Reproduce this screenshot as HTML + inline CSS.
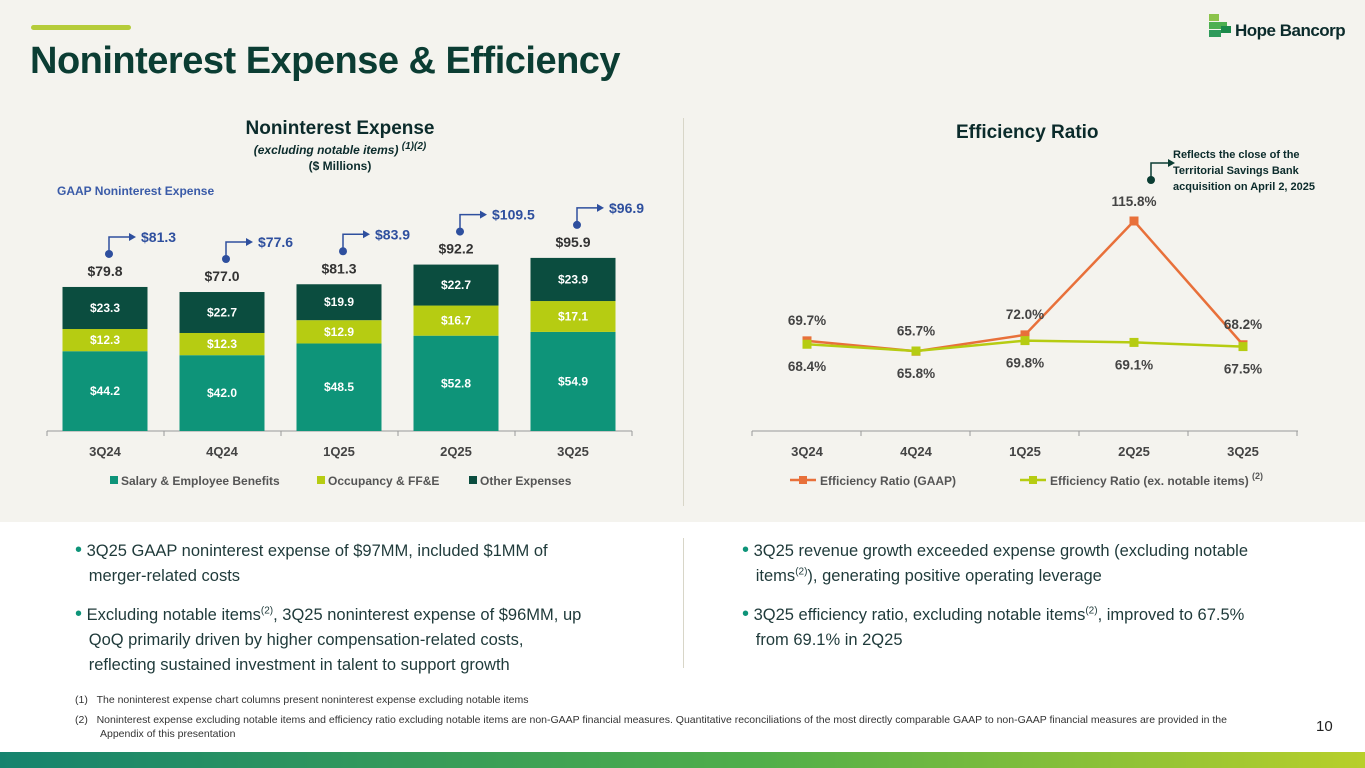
<!DOCTYPE html>
<html><head><meta charset="utf-8"><style>
body{margin:0;width:1365px;height:768px;overflow:hidden;font-family:"Liberation Sans",sans-serif;background:#fff;position:relative}
.abs{position:absolute}
.b{font-size:16.5px;color:#1f3a3a;line-height:25px}
.dot{color:#0e9479;font-size:20px}
sup{font-size:10px;line-height:0}
</style></head><body>
<div class="abs" style="left:0;top:0;width:1365px;height:522px;background:#f4f3ee"></div>
<div class="abs" style="left:31px;top:25px;width:100px;height:5px;background:#b5cc3a;border-radius:3px"></div>
<div class="abs" style="left:30px;top:40px;font-size:38px;font-weight:bold;color:#0b3d33;letter-spacing:-0.5px">Noninterest Expense &amp; Efficiency</div>
<div class="abs" style="left:1207px;top:12px;width:150px;height:30px">
<svg width="30" height="32" style="position:absolute;left:0;top:0"><rect x="2" y="2" width="10" height="7" fill="#8bc34a"/><rect x="2" y="10" width="18" height="7" fill="#4caf50"/><rect x="2" y="18" width="12" height="7" fill="#2e9a5a"/><rect x="14" y="14" width="10" height="7" fill="#1b8a4a"/></svg>
<span style="position:absolute;left:28px;top:9px;font-size:17px;font-weight:bold;color:#0b2b2b;letter-spacing:-0.5px">Hope Bancorp</span></div>
<div class="abs" style="left:683px;top:118px;width:1px;height:388px;background:#d8d6c8"></div>
<div class="abs" style="left:190px;top:118px;width:300px;text-align:center;color:#0b2b2b">
<div style="font-size:19px;font-weight:bold">Noninterest Expense</div>
<div style="font-size:12px;font-style:italic;font-weight:bold;margin-top:3px">(excluding notable items) <sup>(1)(2)</sup></div>
<div style="font-size:12px;font-weight:bold;margin-top:2px">($ Millions)</div></div>
<div class="abs" style="left:57px;top:184px;font-size:12px;font-weight:bold;color:#3a5ba8">GAAP Noninterest Expense</div>
<div class="abs" style="left:956px;top:122px;font-size:19px;font-weight:bold;color:#0b2b2b">Efficiency Ratio</div>
<div class="abs" style="left:1173px;top:147px;font-size:11px;font-weight:bold;color:#0b2b2b;line-height:16px">Reflects the close of the<br>Territorial Savings Bank<br>acquisition on April 2, 2025</div>
<svg class="abs" style="left:0;top:0" width="1365" height="520" id="chart"></svg>
<div class="abs b" style="left:75px;top:538px;width:600px">
<div><span class="dot">•</span> 3Q25 GAAP noninterest expense of $97MM, included $1MM of<br>&nbsp;&nbsp;&nbsp;merger-related costs</div>
<div style="margin-top:13px"><span class="dot">•</span> Excluding notable items<sup>(2)</sup>, 3Q25 noninterest expense of $96MM, up<br>&nbsp;&nbsp;&nbsp;QoQ primarily driven by higher compensation-related costs,<br>&nbsp;&nbsp;&nbsp;reflecting sustained investment in talent to support growth</div></div>
<div class="abs" style="left:683px;top:538px;width:1px;height:130px;background:#d8d6c8"></div>
<div class="abs b" style="left:742px;top:538px;width:620px">
<div><span class="dot">•</span> 3Q25 revenue growth exceeded expense growth (excluding notable<br>&nbsp;&nbsp;&nbsp;items<sup>(2)</sup>), generating positive operating leverage</div>
<div style="margin-top:13px"><span class="dot">•</span> 3Q25 efficiency ratio, excluding notable items<sup>(2)</sup>, improved to 67.5%<br>&nbsp;&nbsp;&nbsp;from 69.1% in 2Q25</div></div>
<div class="abs" style="left:75px;top:693px;font-size:10.5px;color:#333;line-height:14px;width:1175px">
<div>(1)&nbsp;&nbsp;&nbsp;The noninterest expense chart columns present noninterest expense excluding notable items</div>
<div style="margin-top:6px;padding-left:25px;text-indent:-25px">(2)&nbsp;&nbsp;&nbsp;Noninterest expense excluding notable items and efficiency ratio excluding notable items are non-GAAP financial measures. Quantitative reconciliations of the most directly comparable GAAP to non-GAAP financial measures are provided in the Appendix of this presentation</div></div>
<div class="abs" style="left:1316px;top:718px;font-size:15px;color:#222">10</div>
<div class="abs" style="left:0;top:752px;width:1365px;height:16px;background:linear-gradient(90deg,#15836e,#4fae4a 55%,#b8cf2a)"></div>
<script>
const cats=["3Q24","4Q24","1Q25","2Q25","3Q25"];
const salary=[44.2,42.0,48.5,52.8,54.9];
const occupancy=[12.3,12.3,12.9,16.7,17.1];
const other=[23.3,22.7,19.9,22.7,23.9];
const totals=[79.8,77.0,81.3,92.2,95.9];
const gaap=[81.3,77.6,83.9,109.5,96.9];
const effGaap=[69.7,65.7,72.0,115.8,68.2];
const effAdj=[68.4,65.8,69.8,69.1,67.5];
const NS="http://www.w3.org/2000/svg",svg=document.getElementById('chart');
function mk(t,a,txt){const e=document.createElementNS(NS,t);for(const k in a)e.setAttribute(k,a[k]);if(txt!=null)e.textContent=txt;svg.appendChild(e);return e;}
const F='"Liberation Sans",sans-serif';
const bx=i=>105+i*117, by=v=>431-v*1.805;
mk('line',{x1:47,y1:431,x2:632,y2:431,stroke:'#999'});
for(let i=0;i<=5;i++){const t=mk('line',{x1:47+i*117,y1:431,x2:47+i*117,y2:436,stroke:'#999'});}
const segs=[[salary,'#0e9479'],[occupancy,'#b6cc12'],[other,'#0b4d3f']];
cats.forEach((c,i)=>{
 let base=0;
 segs.forEach(([arr,col],s)=>{
  const y0=by(base),y1=by(base+arr[i]);
  const r=mk('rect',{x:bx(i)-42.5,y:y1,width:85,height:y0-y1,fill:col});
  
  
  const t=mk('text',{x:bx(i),y:(y0+y1)/2+4,'text-anchor':'middle','font-size':12,'font-weight':'bold',fill:'#fff','font-family':F},'$'+arr[i].toFixed(1));
  
  
  base+=arr[i];
 });
 const top=by(base);
 const tl=mk('text',{x:bx(i),y:top-11,'text-anchor':'middle','font-size':14,'font-weight':'bold',fill:'#333','font-family':F},'$'+totals[i].toFixed(1));
 
 
 const dx=bx(i)+4, dy=top-33, ly=dy-17;
 mk('circle',{cx:dx,cy:dy,r:4,fill:'#2e4f9e'});
 const ar=mk('path',{d:`M${dx} ${dy} V${ly} H${dx+20}`,stroke:'#2e4f9e','stroke-width':1.5,fill:'none'});
 
 
 mk('path',{d:`M${dx+20} ${ly-4} L${dx+27} ${ly} L${dx+20} ${ly+4}Z`,fill:'#2e4f9e'});
 const gl=mk('text',{x:dx+32,y:ly+5,'font-size':14,'font-weight':'bold',fill:'#2e4f9e','font-family':F},'$'+gaap[i].toFixed(1));
 
 
 const xl=mk('text',{x:bx(i),y:456,'text-anchor':'middle','font-size':13,'font-weight':'bold',fill:'#444','font-family':F},c);
 
 
});
[['Salary & Employee Benefits','#0e9479',110],['Occupancy & FF&E','#b6cc12',317],['Other Expenses','#0b4d3f',469]].forEach(([n,c,x])=>{
 mk('rect',{x:x,y:476,width:8,height:8,fill:c});
 const t=mk('text',{x:x+11,y:485,'font-size':12,'font-weight':'bold',fill:'#555','font-family':F},n);
 
 
});
const rx=i=>807+i*109, ry=v=>351-(v-65.8)*2.6;
mk('line',{x1:752,y1:431,x2:1298,y2:431,stroke:'#999'});
for(let i=0;i<=5;i++){const t=mk('line',{x1:752+i*109,y1:431,x2:752+i*109,y2:436,stroke:'#999'});}
function series(arr,col,name){
 const l=mk('polyline',{points:arr.map((v,i)=>rx(i)+','+ry(v)).join(' '),fill:'none',stroke:col,'stroke-width':2.5});
 
 
 arr.forEach((v,i)=>{const m=mk('rect',{x:rx(i)-4.5,y:ry(v)-4.5,width:9,height:9,fill:col});});
}
series(effGaap,'#e8703a','eff-gaap');
series(effAdj,'#b6cc12','eff-adj');
effGaap.forEach((v,i)=>{const yy=i==3?ry(v)-15:ry(v)-16;const t=mk('text',{x:rx(i),y:yy,'text-anchor':'middle','font-size':13.5,'font-weight':'bold',fill:'#444','font-family':F},v.toFixed(1)+'%');});
effAdj.forEach((v,i)=>{const t=mk('text',{x:rx(i),y:ry(v)+27,'text-anchor':'middle','font-size':13.5,'font-weight':'bold',fill:'#444','font-family':F},v.toFixed(1)+'%');});
cats.forEach((c,i)=>{const t=mk('text',{x:rx(i),y:456,'text-anchor':'middle','font-size':13,'font-weight':'bold',fill:'#444','font-family':F},c);});
mk('circle',{cx:1151,cy:180,r:4,fill:'#0b3d33'});
mk('path',{d:'M1151 180 V163 H1170',stroke:'#0b3d33','stroke-width':1.5,fill:'none'});
mk('path',{d:'M1168 159 L1175 163 L1168 167Z',fill:'#0b3d33'});
[['Efficiency Ratio (GAAP)','#e8703a',790],['Efficiency Ratio (ex. notable items)','#b6cc12',1020]].forEach(([n,c,x])=>{
 mk('line',{x1:x,y1:480,x2:x+26,y2:480,stroke:c,'stroke-width':2.5});
 mk('rect',{x:x+9,y:476,width:8,height:8,fill:c});
 const t=mk('text',{x:x+30,y:485,'font-size':12,'font-weight':'bold',fill:'#555','font-family':F},n);
 
 
});
mk('text',{x:1252,y:479,'font-size':9,'font-weight':'bold',fill:'#555','font-family':F},'(2)');
</script>
</body></html>
